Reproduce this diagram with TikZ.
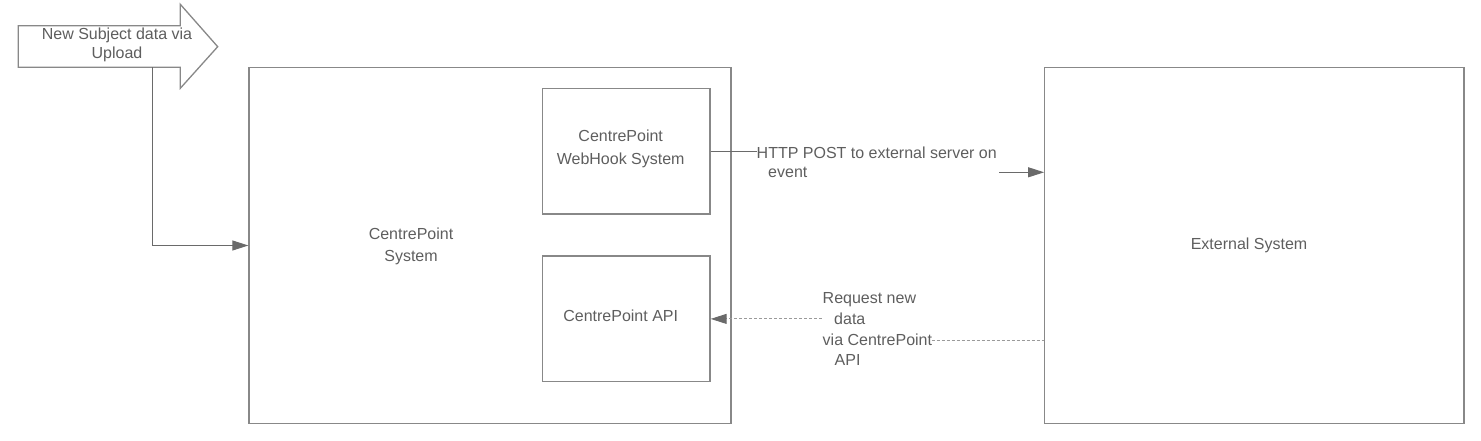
\documentclass[tikz,border=0pt]{standalone}
\usepackage{fontspec}
\setmainfont{Liberation Sans}
\usetikzlibrary{arrows.meta}
\definecolor{lc}{HTML}{888888}
\definecolor{tc}{HTML}{5E5E5E}
\definecolor{ac}{HTML}{6A6A6A}
\definecolor{dc}{HTML}{9A9A9A}
\begin{document}
\begin{tikzpicture}[x=1pt,y=-1pt,
  box/.style={draw=lc,line width=1.3pt,inner sep=0pt},
  txt/.style={text=tc,inner sep=0pt,align=center,font=\fontsize{16}{22.5}\selectfont},
  conn/.style={draw=ac,line width=1pt},
  tipc/.style={-{Triangle[length=16pt,width=10pt,color=ac]}},
  dsh/.style={draw=dc,line width=1pt,dash pattern=on 3pt off 2pt}]
\useasboundingbox (0,0) rectangle (1481,441);

% block arrow
\draw[draw=lc,line width=1.3pt,fill=white] (18.3,25.7) -- (180.3,25.7) -- (180.3,4.3)
  -- (217.7,46.7) -- (180.3,88.3) -- (180.3,67.3) -- (18.3,67.3) -- cycle;
\node[txt,font=\fontsize{16}{18.5}\selectfont] (up) at (117,45) {New Subject data via\\Upload};
\coordinate (src) at (152.3,67.3);

% boxes
\node[box,minimum width=482,minimum height=355.6] (sys) at (490,245.5) {};
\node[txt] (systxt) at (411,246.5) {CentrePoint\\System};
\node[box,minimum width=167.7,minimum height=125.7] (hook) at (626.2,151.2) {};
\node[txt] (hooktxt) at (620.7,149) {CentrePoint\\WebHook System};
\node[box,minimum width=167.7,minimum height=125.7] (api) at (626.2,318.9) {};
\node[txt] (apitxt) at (620.7,316) {CentrePoint API};
\node[box,minimum width=419.3,minimum height=355.6] (ext) at (1254.4,245.5) {};
\node[txt] (exttxt) at (1249,245.7) {External System};

% upload connector
\draw[conn,tipc] (src) |- (sys.west);

% HTTP POST
\node[txt,anchor=west,align=left,font=\fontsize{16}{19}\selectfont] (http) at (756.5,162.2)
  {HTTP POST to external server on\\\hspace*{11.5pt}event};
\draw[conn] (hook.east) -- (hook.east -| http.west);
\coordinate (h2) at (999.3,172.3);
\draw[conn,tipc] (h2) -- (h2 -| ext.west);

% request
\node[txt,anchor=west,align=left,font=\fontsize{16}{20.6}\selectfont] (req) at (822.5,329.3)
  {Request new\\\hspace*{11.5pt}data\\via CentrePoint\\\hspace*{12pt}API};
\coordinate (r1) at (931.5,340);
\draw[dsh] (r1) -- (r1 -| ext.west);
\coordinate (r2) at (821.7,318.9);
\draw[dsh,tipc] (r2) -- (r2 -| api.east);
\end{tikzpicture}
\end{document}
